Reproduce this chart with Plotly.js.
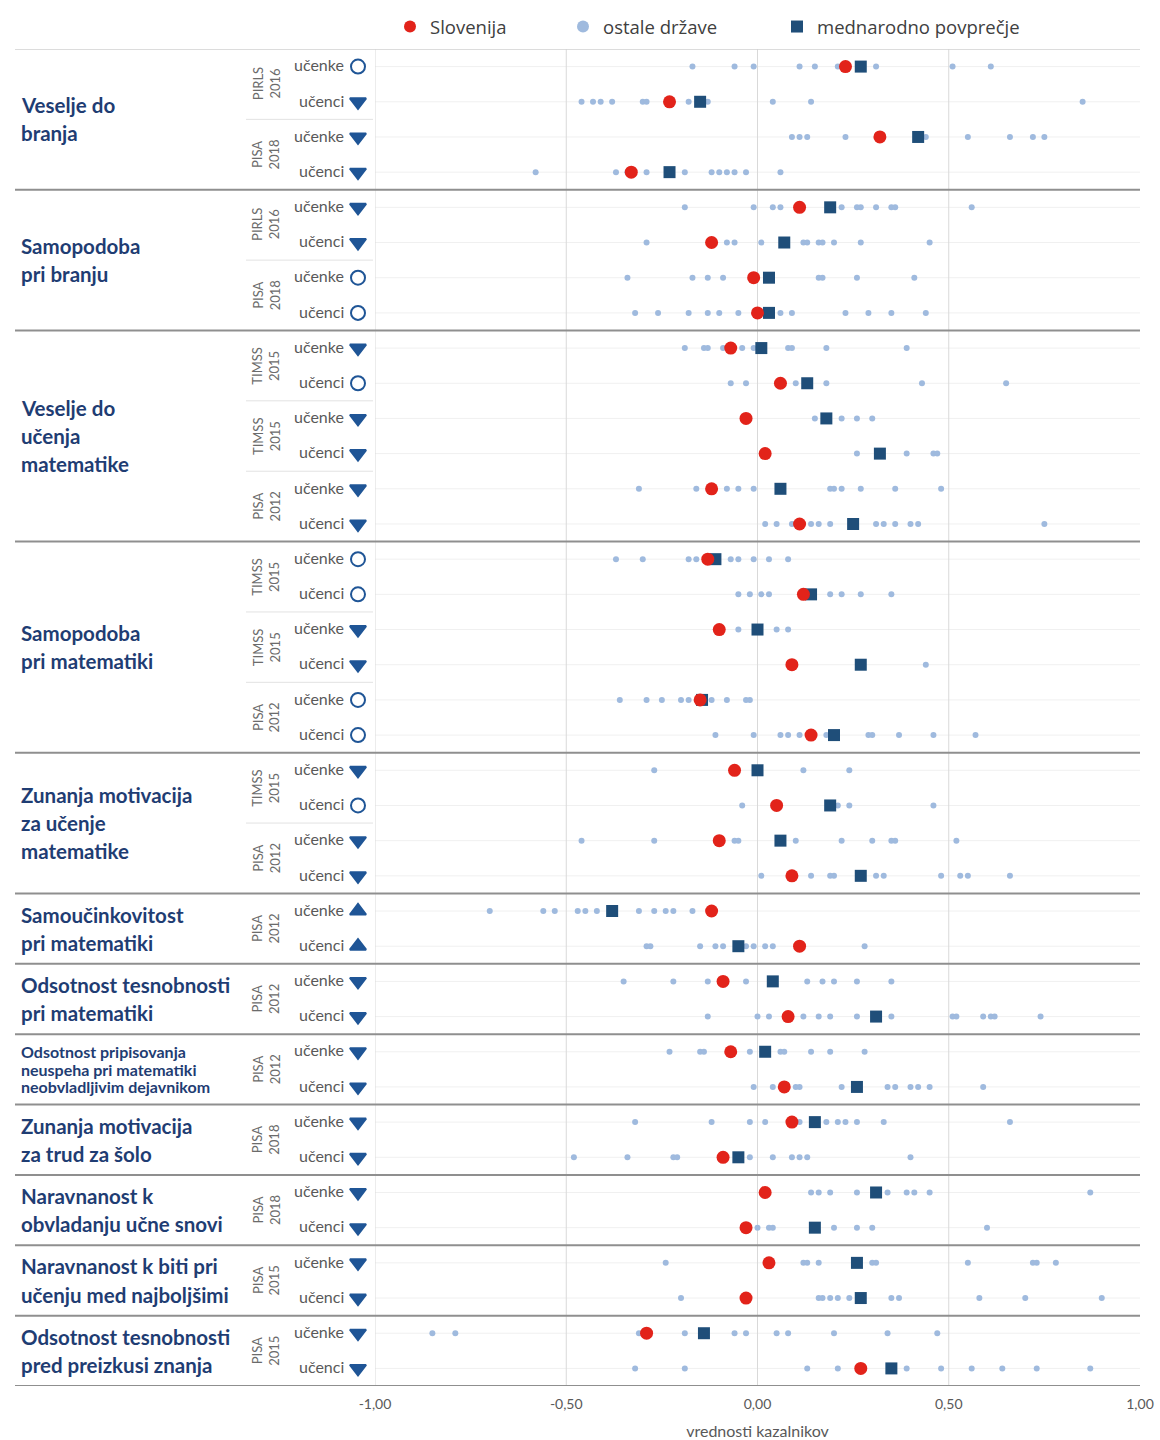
<!DOCTYPE html>
<html><head><meta charset="utf-8">
<script src="https://cdn.plot.ly/plotly-3.0.1.min.js"></script>
<style>body{margin:0;background:#fff}</style>
</head><body><div id="chart" style="width:1160px;height:1440px"></div>
<script>
// ---------------- DATA ----------------
const groupNames = [
  ['Veselje do','branja'],
  ['Samopodoba','pri branju'],
  ['Veselje do','učenja','matematike'],
  ['Samopodoba','pri matematiki'],
  ['Zunanja motivacija','za učenje','matematike'],
  ['Samoučinkovitost','pri matematiki'],
  ['Odsotnost tesnobnosti','pri matematiki'],
  ['Odsotnost pripisovanja','neuspeha pri matematiki','neobvladljivim dejavnikom'],
  ['Zunanja motivacija','za trud za šolo'],
  ['Naravnanost k','obvladanju učne snovi'],
  ['Naravnanost k biti pri','učenju med najboljšimi'],
  ['Odsotnost tesnobnosti','pred preizkusi znanja']
];
const groupSizes = [4,4,6,6,4,2,2,2,2,2,2,2];
const studies = [
  ['PIRLS','2016'],['PISA','2018'],
  ['PIRLS','2016'],['PISA','2018'],
  ['TIMSS','2015'],['TIMSS','2015'],['PISA','2012'],
  ['TIMSS','2015'],['TIMSS','2015'],['PISA','2012'],
  ['TIMSS','2015'],['PISA','2012'],
  ['PISA','2012'],['PISA','2012'],['PISA','2012'],
  ['PISA','2018'],['PISA','2018'],['PISA','2015'],['PISA','2015']
];
const rowLabels = Array.from({length:38}, (_, i) => i % 2 === 0 ? 'učenke' : 'učenci');
// comparison of Slovenia with the international average
const significance = [
  'ns','lower','lower','lower',
  'lower','lower','ns','ns',
  'lower','ns','lower','lower','lower','lower',
  'ns','ns','lower','lower','ns','ns',
  'lower','ns','lower','lower',
  'higher','higher',
  'lower','lower',
  'lower','lower',
  'lower','lower',
  'lower','lower',
  'lower','lower',
  'lower','lower'
];
const slovenia = [
  0.23,-0.23,0.32,-0.33,
  0.11,-0.12,-0.01,0.00,
  -0.07,0.06,-0.03,0.02,-0.12,0.11,
  -0.13,0.12,-0.10,0.09,-0.15,0.14,
  -0.06,0.05,-0.10,0.09,
  -0.12,0.11,
  -0.09,0.08,
  -0.07,0.07,
  0.09,-0.09,
  0.02,-0.03,
  0.03,-0.03,
  -0.29,0.27
];
const intlAverage = [
  0.27,-0.15,0.42,-0.23,
  0.19,0.07,0.03,0.03,
  0.01,0.13,0.18,0.32,0.06,0.25,
  -0.11,0.14,0.00,0.27,-0.145,0.20,
  0.00,0.19,0.06,0.27,
  -0.38,-0.05,
  0.04,0.31,
  0.02,0.26,
  0.15,-0.05,
  0.31,0.15,
  0.26,0.27,
  -0.14,0.35
];
const otherCountries = [
  [-0.17,-0.06,-0.01,0.11,0.15,0.21,0.31,0.51,0.61],
  [-0.46,-0.43,-0.41,-0.38,-0.30,-0.29,-0.18,-0.13,0.04,0.14,0.85],
  [0.09,0.11,0.13,0.23,0.44,0.55,0.66,0.72,0.75],
  [-0.58,-0.37,-0.34,-0.29,-0.19,-0.12,-0.10,-0.08,-0.06,-0.03,0.06],
  [-0.19,-0.01,0.04,0.06,0.22,0.26,0.27,0.31,0.35,0.36,0.56],
  [-0.29,-0.08,-0.06,0.01,0.12,0.13,0.16,0.17,0.20,0.27,0.45],
  [-0.34,-0.17,-0.13,-0.09,0.16,0.17,0.26,0.41],
  [-0.32,-0.26,-0.18,-0.13,-0.10,-0.05,0.06,0.09,0.23,0.29,0.35,0.44],
  [-0.19,-0.14,-0.13,-0.09,-0.04,-0.01,0.08,0.09,0.18,0.39],
  [-0.07,-0.03,0.10,0.18,0.43,0.65],
  [0.15,0.22,0.26,0.30],
  [0.26,0.39,0.46,0.47],
  [-0.31,-0.16,-0.08,-0.05,-0.01,0.19,0.20,0.22,0.27,0.36,0.48],
  [0.02,0.05,0.09,0.14,0.16,0.19,0.31,0.33,0.36,0.40,0.42,0.75],
  [-0.37,-0.30,-0.18,-0.16,-0.07,-0.05,-0.01,0.03,0.08],
  [-0.05,-0.02,0.01,0.03,0.19,0.22,0.27,0.35],
  [-0.05,0.05,0.08],
  [0.44],
  [-0.36,-0.29,-0.25,-0.20,-0.18,-0.12,-0.08,-0.03,-0.02],
  [-0.11,-0.01,0.06,0.08,0.11,0.18,0.29,0.30,0.37,0.46,0.57],
  [-0.27,0.12,0.24],
  [-0.04,0.21,0.24,0.46],
  [-0.46,-0.27,-0.06,-0.05,0.10,0.22,0.30,0.35,0.36,0.52],
  [0.01,0.14,0.19,0.20,0.31,0.33,0.48,0.53,0.55,0.66],
  [-0.70,-0.56,-0.53,-0.47,-0.45,-0.42,-0.31,-0.27,-0.24,-0.22,-0.17],
  [-0.29,-0.28,-0.15,-0.11,-0.09,-0.03,-0.01,0.02,0.04,0.28],
  [-0.35,-0.22,-0.13,-0.03,0.13,0.17,0.20,0.26,0.35],
  [-0.13,0.00,0.03,0.12,0.16,0.19,0.26,0.35,0.51,0.52,0.59,0.61,0.62,0.74],
  [-0.23,-0.15,-0.14,-0.02,0.06,0.07,0.14,0.19,0.28],
  [-0.01,0.04,0.10,0.11,0.22,0.34,0.36,0.40,0.42,0.45,0.59],
  [-0.32,-0.12,-0.02,0.02,0.11,0.18,0.21,0.23,0.26,0.33,0.66],
  [-0.48,-0.34,-0.22,-0.21,-0.02,0.04,0.09,0.11,0.13,0.40],
  [0.14,0.16,0.19,0.26,0.34,0.39,0.41,0.45,0.87],
  [0.00,0.03,0.04,0.20,0.26,0.30,0.60],
  [-0.24,0.12,0.13,0.16,0.30,0.31,0.55,0.72,0.73,0.78],
  [-0.20,0.16,0.17,0.19,0.21,0.24,0.35,0.37,0.58,0.70,0.90],
  [-0.85,-0.79,-0.31,-0.19,-0.06,-0.03,0.05,0.08,0.20,0.34,0.47],
  [-0.32,-0.19,0.13,0.21,0.39,0.48,0.56,0.64,0.73,0.87]
];
const tickValues = [-1,-0.5,0,0.5,1];
const tickLabels = ['-1,00','-0,50','0,00','0,50','1,00'];
const gridValues = [-1,-0.5,0,0.5];
const seriesNames = {slo:'Slovenija', oth:'ostale države', avg:'mednarodno povprečje'};
const axisTitle = 'vrednosti kazalnikov';

// ---------------- LAYOUT CONSTANTS ----------------
const W = 1160, H = 1440, ML = 15, MR = 20, MT = 49, MB = 54;
const plotW = W - ML - MR, plotH = H - MT - MB;
const valueLeftPx = 375;
const dom0 = (valueLeftPx - ML) / plotW;
const nRows = rowLabels.length;
const FONT = 'Lato, "Open Sans", sans-serif';
const LEGFONT = '"Open Sans", Lato, sans-serif';
const NAVY = '#1f3d73';
const px2paperX = p => (p - ML) / plotW;
const px2paperY = p => 1 - (p - MT) / plotH;

// ---------------- TRACES ----------------
const rows = rowLabels.map((_, i) => i);
const othX = [], othY = [];
otherCountries.forEach((arr, i) => arr.forEach(v => { othX.push(v); othY.push(i); }));
const symMap = {lower:'triangle-down', higher:'triangle-up', ns:'circle-open'};

const traces = [
  {type:'scatter', mode:'markers', name:seriesNames.oth, x:othX, y:othY, xaxis:'x', yaxis:'y',
   marker:{size:6, color:'#9fbade'}, legend:'legend2', hoverinfo:'x'},
  {type:'scatter', mode:'markers', name:seriesNames.avg, x:intlAverage, y:rows, xaxis:'x', yaxis:'y',
   marker:{size:12, symbol:'square', color:'#1f4e79'}, legend:'legend3'},
  {type:'scatter', mode:'markers', name:seriesNames.slo, x:slovenia, y:rows, xaxis:'x', yaxis:'y',
   marker:{size:13, color:'#e2231a'}, legend:'legend'},
  {type:'scatter', mode:'markers', x:rows.map(() => 358), y:rows, xaxis:'x2', yaxis:'y', showlegend:false,
   hoverinfo:'skip',
   marker:{size:14, symbol:significance.map(s => symMap[s]), color:'#1f5596', line:{color:'#1f5596', width:2}}}
];

// ---------------- SHAPES & ANNOTATIONS ----------------
const shapes = [];
const annotations = [];
rows.forEach(i => shapes.push({type:'line', xref:'x domain', yref:'y', x0:0, x1:1, y0:i, y1:i,
  line:{color:'#f0f0f0', width:1}, layer:'below'}));
gridValues.forEach(v => shapes.push({type:'line', xref:'x', yref:'paper', x0:v, x1:v, y0:0, y1:1,
  line:{color:'#d9d9d9', width:1}, layer:'below'}));
shapes.push({type:'line', xref:'paper', yref:'y', x0:0, x1:1, y0:-0.5, y1:-0.5, line:{color:'#d0d0d0', width:1.5}});
let start = 0;
groupSizes.forEach((size, g) => {
  const end = start + size - 1;
  shapes.push({type:'line', xref:'paper', yref:'y', x0:0, x1:1, y0:end + 0.5, y1:end + 0.5,
    line:{color:'#8f8f8f', width:2}});
  const lines = groupNames[g];
  const compact = lines.length > size;
  const gap = compact ? 0.5 : 0.8;
  const center = (start + end) / 2;
  lines.forEach((t, k) => annotations.push({
    xref:'x2', yref:'y', x:19, y:center + (k - (lines.length - 1) / 2) * gap,
    xanchor:'left', yanchor:'middle', showarrow:false, text:t,
    font:{family:FONT, size:compact ? 16 : 20.5, color:NAVY, weight:700}
  }));
  start = end + 1;
});
const groupStarts = new Set();
{ let s = 0; groupSizes.forEach(sz => { groupStarts.add(s); s += sz; }); }
studies.forEach((st, j) => {
  const r0 = j * 2;
  annotations.push({xref:'x2', yref:'y', x:266, y:r0 + 0.5, textangle:-90, showarrow:false,
    text:st[0] + '<br>' + st[1], xanchor:'center', yanchor:'middle',
    font:{family:FONT, size:13, color:'#6b6b6b'}});
  if (!groupStarts.has(r0)) {
    shapes.push({type:'line', xref:'x2', yref:'y', x0:246, x1:373, y0:r0 - 0.5, y1:r0 - 0.5,
      line:{color:'#e2e2e2', width:1}});
  }
});
rowLabels.forEach((t, i) => annotations.push({xref:'x2', yref:'y', x:346, y:i - 0.05,
  xanchor:'right', yanchor:'middle', showarrow:false, text:t,
  font:{family:FONT, size:16, color:'#595959'}}));

// ---------------- LAYOUT ----------------
const legendBase = {orientation:'h', yanchor:'middle', y:px2paperY(27), xanchor:'left', itemsizing:'constant',
  font:{family:LEGFONT, size:18.5, color:'#404040'}, bgcolor:'rgba(0,0,0,0)'};
const layout = {
  width:W, height:H, margin:{l:ML, r:MR, t:MT, b:MB, autoexpand:false},
  paper_bgcolor:'#fff', plot_bgcolor:'#fff',
  showlegend:true,
  legend:Object.assign({}, legendBase, {x:px2paperX(390)}),
  legend2:Object.assign({}, legendBase, {x:px2paperX(563)}),
  legend3:Object.assign({}, legendBase, {x:px2paperX(777)}),
  xaxis:{domain:[dom0, 1], range:[-1, 1], tickvals:tickValues, ticktext:tickLabels,
    showgrid:false, zeroline:false, showline:false, ticks:'', ticklabelstandoff:8,
    tickfont:{family:FONT, size:14, color:'#595959'}, anchor:'y', automargin:false,
    title:{text:axisTitle, font:{family:FONT, size:16, color:'#595959'}, standoff:15}},
  xaxis2:{domain:[0, dom0], range:[ML, valueLeftPx], visible:false, anchor:'y', fixedrange:true},
  yaxis:{range:[nRows - 0.5, -0.5], showticklabels:false, showgrid:false, zeroline:false,
    showline:false, ticks:'', anchor:'x', automargin:false},
  shapes:shapes, annotations:annotations,
  font:{family:FONT}
};
Plotly.newPlot('chart', traces, layout, {displayModeBar:false, responsive:false});
</script>
</body></html>
